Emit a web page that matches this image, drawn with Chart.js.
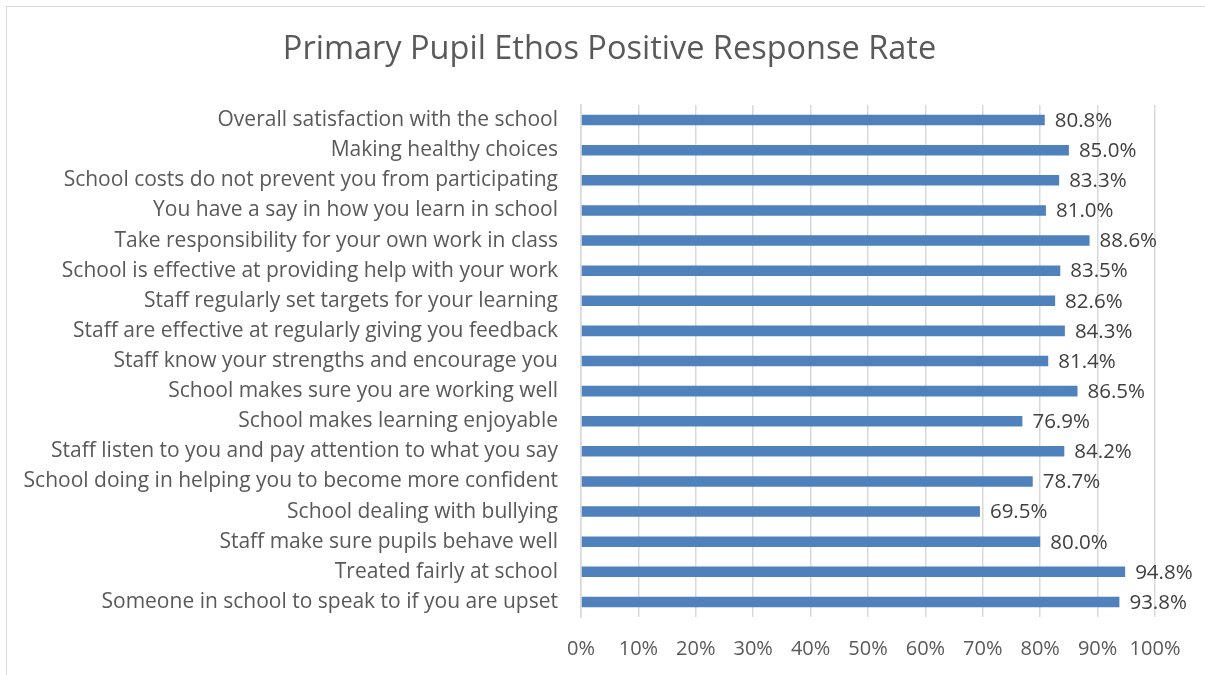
<!DOCTYPE html>
<html>
<head>
<meta charset="utf-8">
<script src="https://cdn.jsdelivr.net/npm/chart.js@4.4.0/dist/chart.umd.min.js"></script>
<style>
  html, body { margin: 0; padding: 0; background: #fff; }
  #wrap { position: relative; width: 1205px; height: 675px; overflow: hidden; }
  #frame { position: absolute; left: 6px; top: 6px; width: 1220px; height: 700px; border: 1px solid #d9d9d9; box-sizing: border-box; }
  #chart { position: absolute; left: 0; top: 0; }
</style>
</head>
<body>
<div id="wrap">
  <div id="frame"></div>
  <canvas id="chart" width="1205" height="675"></canvas>
</div>
<script>
const chartTitle = 'Primary Pupil Ethos Positive Response Rate';
const categories = [
  'Overall satisfaction with the school',
  'Making healthy choices',
  'School costs do not prevent you from participating',
  'You have a say in how you learn in school',
  'Take responsibility for your own work in class',
  'School is effective at providing help with your work',
  'Staff regularly set targets for your learning',
  'Staff are effective at regularly giving you feedback',
  'Staff know your strengths and encourage you',
  'School makes sure you are working well',
  'School makes learning enjoyable',
  'Staff listen to you and pay attention to what you say',
  'School doing in helping you to become more confident',
  'School dealing with bullying',
  'Staff make sure pupils behave well',
  'Treated fairly at school',
  'Someone in school to speak to if you are upset'
];
const positiveRate = [80.8, 85.0, 83.3, 81.0, 88.6, 83.5, 82.6, 84.3, 81.4, 86.5, 76.9, 84.2, 78.7, 69.5, 80.0, 94.8, 93.8];
const xTicks = [0, 10, 20, 30, 40, 50, 60, 70, 80, 90, 100];

const FONT = '"Open Sans", "Noto Sans", sans-serif';

// value labels at the end of each bar
const barLabels = {
  id: 'barLabels',
  afterDatasetsDraw(chart) {
    const ctx = chart.ctx;
    const meta = chart.getDatasetMeta(0);
    ctx.save();
    ctx.font = '20.5px ' + FONT;
    ctx.fillStyle = '#404040';
    ctx.textAlign = 'left';
    ctx.textBaseline = 'middle';
    meta.data.forEach((bar, i) => {
      ctx.fillText(positiveRate[i].toFixed(1) + '%', bar.x + 10, bar.y + 1);
    });
    ctx.restore();
  }
};

// chart title, centred on the whole chart box (not just the plot side)
const titleText = {
  id: 'titleText',
  afterDraw(chart) {
    const ctx = chart.ctx;
    ctx.save();
    ctx.font = '32.5px ' + FONT;
    ctx.fillStyle = '#595959';
    ctx.textAlign = 'center';
    ctx.textBaseline = 'middle';
    ctx.fillText(chartTitle, chart.width / 2 + 7, 50);
    ctx.restore();
  }
};

new Chart(document.getElementById('chart').getContext('2d'), {
  type: 'bar',
  data: {
    labels: categories,
    datasets: [{
      data: positiveRate,
      backgroundColor: '#4f81bd',
      borderWidth: 0,
      barPercentage: 0.35,
      categoryPercentage: 1
    }]
  },
  options: {
    indexAxis: 'y',
    responsive: false,
    animation: false,
    layout: { padding: { left: 0, right: 50, top: 105, bottom: 0 } },
    plugins: {
      legend: { display: false },
      tooltip: { enabled: false },
      title: { display: false }
    },
    scales: {
      x: {
        min: 0,
        max: 100,
        afterBuildTicks(scale) { scale.ticks = xTicks.map(v => ({ value: v })); },
        afterFit(scale) { scale.height = 58; },
        grid: { color: '#d9d9d9', lineWidth: 1.5, drawTicks: false },
        border: { display: false },
        ticks: {
          color: '#595959',
          padding: 20,
          font: { family: FONT, size: 20 },
          callback: v => v + '%'
        }
      },
      y: {
        afterFit(scale) { scale.width = 581; },
        grid: { display: false, drawTicks: false },
        border: { display: true, color: '#d9d9d9', width: 1.5 },
        ticks: {
          color: '#595959',
          padding: 23,
          font: { family: FONT, size: 21 },
          autoSkip: false
        }
      }
    }
  },
  plugins: [barLabels, titleText]
});
</script>
</body>
</html>
